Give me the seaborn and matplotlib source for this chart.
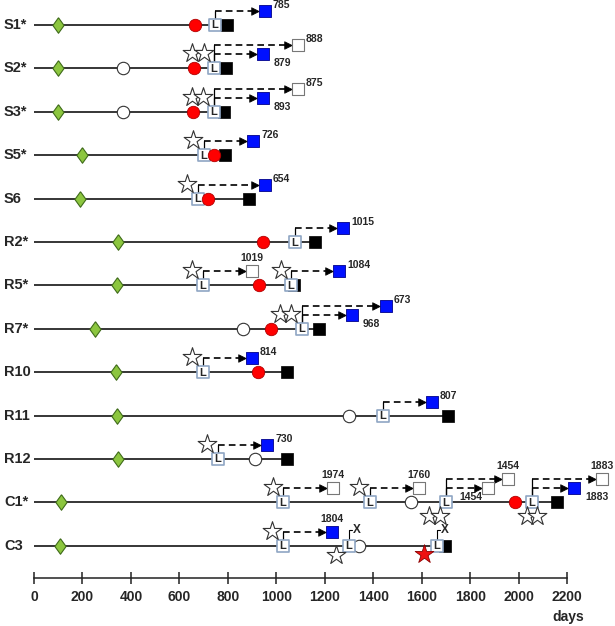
import matplotlib
matplotlib.use("Agg")
import matplotlib.pyplot as plt
import pandas as pd
import seaborn as sns

# ---- data (days) ----
rows = ["S1*", "S2*", "S3*", "S5*", "S6", "R2*", "R5*", "R7*", "R10", "R11", "R12", "C1*", "C3"]
start_day = [99, 99, 99, 198, 190, 346, 342, 252, 338, 342, 346, 111, 107]
end_day = [797, 792, 784, 790, 889, 1160, 1075, 1176, 1044, 1709, 1044, 2159, 1698]

open_circle = [("S2*", 368), ("S3*", 368), ("R7*", 862), ("R11", 1300),
               ("R12", 912), ("C1*", 1556), ("C3", 1341)]
red_circle = [("S1*", 665), ("S2*", 661), ("S3*", 657), ("S5*", 744), ("S6", 719),
              ("R2*", 946), ("R5*", 930), ("R7*", 977), ("R10", 925), ("C1*", 1985)]
l_box = [("S1*", 747), ("S2*", 743), ("S3*", 743), ("S5*", 702), ("S6", 677),
         ("R2*", 1077), ("R5*", 697), ("R5*", 1061), ("R7*", 1106), ("R10", 697),
         ("R11", 1440), ("R12", 759), ("C1*", 1028), ("C1*", 1387), ("C1*", 1700),
         ("C1*", 2055), ("C3", 1028), ("C3", 1300), ("C3", 1663)]
stars = [("S2*", 652, "up"), ("S2*", 700, "up"), ("S3*", 652, "up"), ("S3*", 697, "up"),
         ("S5*", 656, "up"), ("S6", 631, "up"), ("R5*", 652, "up"), ("R5*", 1019, "up"),
         ("R7*", 1015, "up"), ("R7*", 1061, "up"), ("R10", 652, "up"), ("R12", 714, "up"),
         ("C1*", 986, "up"), ("C1*", 1341, "up"), ("C1*", 1630, "down"), ("C1*", 1676, "down"),
         ("C1*", 2035, "down"), ("C1*", 2076, "down"), ("C3", 982, "up"), ("C3", 1246, "low")]
red_star = [("C3", 1610)]
lost = [("C3", 1300), ("C3", 1663)]

# arrows: row, L day, target day, level (1 low / 2 high), filled target, label, label side
arrows = [
    ("S1*", 747, 953, 1, True, "785", "ur"),
    ("S2*", 743, 1090, 2, False, "888", "ur"),
    ("S2*", 743, 945, 1, True, "879", "lr"),
    ("S3*", 743, 1090, 2, False, "875", "ur"),
    ("S3*", 743, 945, 1, True, "893", "lr"),
    ("S5*", 702, 904, 1, True, "726", "ur"),
    ("S6", 677, 953, 1, True, "654", "ur"),
    ("R2*", 1077, 1275, 1, True, "1015", "ur"),
    ("R5*", 697, 900, 1, False, "1019", "top"),
    ("R5*", 1061, 1259, 1, True, "1084", "ur"),
    ("R7*", 1106, 1453, 2, True, "673", "ur"),
    ("R7*", 1106, 1312, 1, True, "968", "lr"),
    ("R10", 697, 900, 1, True, "814", "ur"),
    ("R11", 1440, 1643, 1, True, "807", "ur"),
    ("R12", 759, 962, 1, True, "730", "ur"),
    ("C1*", 1028, 1234, 1, False, "1974", "top"),
    ("C1*", 1387, 1589, 1, False, "1760", "top"),
    ("C1*", 1700, 1956, 2, False, "1454", "top"),
    ("C1*", 1700, 1874, 1, False, "1454", "ll"),
    ("C1*", 2055, 2344, 2, False, "1883", "top"),
    ("C1*", 2055, 2229, 1, True, "1883", "lr"),
    ("C3", 1028, 1230, 1, True, "1804", "top"),
]
ticks = list(range(0, 2201, 200))

# ---- layout helpers (pixel -> data) ----
ROW_PX = 43.4
DAY_PX = 0.2423


def dy(px):
    return px / ROW_PX


def dx(px):
    return px / DAY_PX


row_idx = {r: i for i, r in enumerate(rows)}


def frame(pairs, off=0.0):
    return pd.DataFrame({"day": [p[1] for p in pairs],
                         "y": [row_idx[p[0]] + off for p in pairs]})


sns.set_style("white")
plt.rcParams["font.family"] = ["Liberation Sans", "DejaVu Sans"]
plt.rcParams["font.weight"] = "bold"

fig = plt.figure(figsize=(6.15, 6.26), dpi=100)
ax = fig.add_axes([0, 48 / 626, 1, 578 / 626])
ax.set_xlim(-dx(34), dx(615 - 34))
ax.set_ylim((578 - 25) / ROW_PX, -25 / ROW_PX)

# timelines
ax.hlines(range(len(rows)), 0, end_day, color="black", lw=1.1, zorder=1)

diamond = [(0, 1), (0.72, 0), (0, -1), (-0.72, 0), (0, 1)]
sns.scatterplot(data=pd.DataFrame({"day": start_day, "y": range(len(rows))}), x="day", y="y",
                marker=diamond, s=125, color="#8cc63f", edgecolor="#3f6b1a", linewidth=0.8,
                ax=ax, legend=False, zorder=3)
sns.scatterplot(data=pd.DataFrame({"day": end_day, "y": range(len(rows))}), x="day", y="y",
                marker="s", s=72, color="black", edgecolor="black", linewidth=0.5,
                ax=ax, legend=False, zorder=3)
sns.scatterplot(data=frame(open_circle), x="day", y="y", marker="o", s=80, color="white",
                edgecolor="#333333", linewidth=0.8, ax=ax, legend=False, zorder=4)
sns.scatterplot(data=frame(l_box), x="day", y="y", marker="s", s=68, color="white",
                edgecolor="#8fa6c4", linewidth=1.2, ax=ax, legend=False, zorder=5)
for r, d in l_box:
    ax.text(d, row_idx[r] + dy(0.5), "L", ha="center", va="center", fontsize=8,
            fontweight="bold", zorder=6)
sns.scatterplot(data=frame(red_circle), x="day", y="y", marker="o", s=80, color="#ff0000",
                edgecolor="#b00000", linewidth=0.6, ax=ax, legend=False, zorder=7)

# stars
star_off = {"up": -15, "down": 14, "low": 9}
star_df = pd.DataFrame({"day": [s[1] for s in stars],
                        "y": [row_idx[s[0]] + dy(star_off[s[2]]) for s in stars]})
sns.scatterplot(data=star_df, x="day", y="y", marker="*", s=200, color="white",
                edgecolor="#333333", linewidth=0.8, ax=ax, legend=False, zorder=8)
sns.scatterplot(data=frame(red_star, dy(8)), x="day", y="y", marker="*", s=200,
                color="#ee1111", edgecolor="#8b0000", linewidth=0.6, ax=ax, legend=False, zorder=8)

# lost follow-up marks
for r, d in lost:
    y0 = row_idx[r]
    ax.plot([d, d, d + dx(3)], [y0 - dy(6), y0 - dy(16), y0 - dy(16)], color="black", lw=0.8, zorder=2)
    ax.text(d + dx(4), y0 - dy(16), "X", ha="left", va="center", fontsize=8.5, fontweight="bold")

# arrows to target squares
level_off = {1: -14, 2: -23}
heads, targets_f, targets_o = [], [], []
for r, lx, tx, lev, filled, lab, side in arrows:
    y0 = row_idx[r]
    ya = y0 + dy(level_off[lev])
    ax.plot([lx, lx], [y0 - dy(6), ya], color="black", lw=0.9, zorder=2)
    ax.plot([lx, tx - dx(13)], [ya, ya], color="black", lw=1.2, ls=(0, (4, 2.5)), zorder=2)
    heads.append((tx - dx(10), ya))
    (targets_f if filled else targets_o).append((tx, ya))
    if side == "ur":
        ax.text(tx + dx(8), ya - dy(6), lab, ha="left", va="center", fontsize=7.5)
    elif side == "lr":
        ax.text(tx + dx(11), ya + dy(9), lab, ha="left", va="center", fontsize=7.5)
    elif side == "ll":
        ax.text(tx - dx(6), ya + dy(9), lab, ha="right", va="center", fontsize=7.5)
    else:
        ax.text(tx, ya - dy(13), lab, ha="center", va="center", fontsize=7.5)

head_df = pd.DataFrame(heads, columns=["day", "y"])
sns.scatterplot(data=head_df, x="day", y="y", marker=">", s=30, color="black",
                edgecolor="black", linewidth=0.5, ax=ax, legend=False, zorder=3)
sns.scatterplot(data=pd.DataFrame(targets_f, columns=["day", "y"]), x="day", y="y", marker="s",
                s=82, color="#0010ff", edgecolor="#00008b", linewidth=0.6, ax=ax, legend=False, zorder=4)
sns.scatterplot(data=pd.DataFrame(targets_o, columns=["day", "y"]), x="day", y="y", marker="s",
                s=82, color="white", edgecolor="#777777", linewidth=0.8, ax=ax, legend=False, zorder=4)

# row labels
for i, r in enumerate(rows):
    ax.text(-dx(30), i, r, ha="left", va="center", fontsize=10.5, fontweight="bold")

# day axis
for side in ["top", "left", "right"]:
    ax.spines[side].set_visible(False)
ax.spines["bottom"].set_bounds(0, 2200)
ax.spines["bottom"].set_linewidth(1.1)
ax.spines["bottom"].set_color("#222222")
ax.set_xticks(ticks)
ax.set_xticklabels([str(t) for t in ticks], fontweight="bold", fontsize=10)
ax.tick_params(axis="x", direction="inout", length=9, width=1.1, pad=4, color="#222222", bottom=True)
ax.set_yticks([])
ax.set_xlabel("")
ax.set_ylabel("")
fig.text(568 / 615, 1 - 617 / 626, "days", ha="center", va="center", fontsize=10, fontweight="bold")

fig.savefig("out.png", dpi=100)
